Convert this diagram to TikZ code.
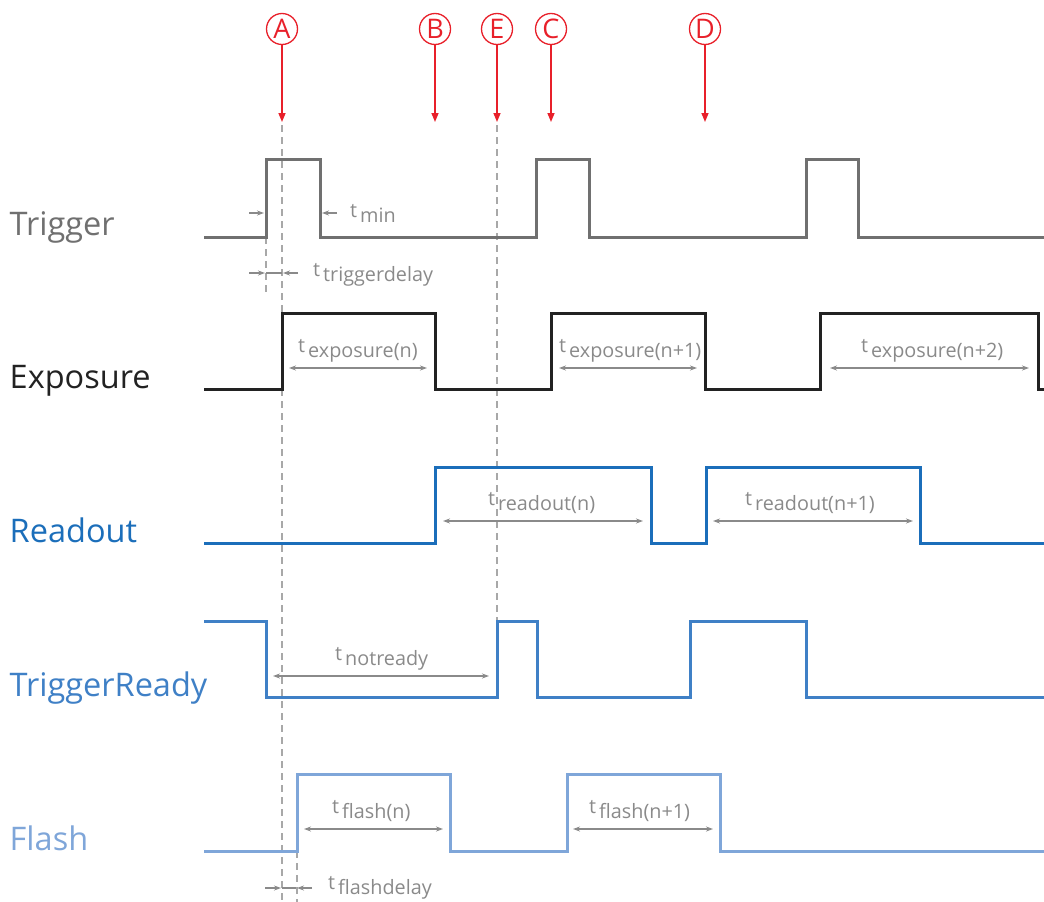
\documentclass[tikz,border=0pt]{standalone}
\usepackage{fontspec}
\setmainfont{Open Sans}
\usetikzlibrary{arrows.meta}

\definecolor{trigc}{HTML}{707070}
\definecolor{expc}{HTML}{222222}
\definecolor{readc}{HTML}{1B6EBA}
\definecolor{rdyc}{HTML}{3F80C6}
\definecolor{flashc}{HTML}{7FA6D9}
\definecolor{annc}{HTML}{8A8A8A}
\definecolor{guidec}{HTML}{A8A8A8}
\definecolor{markc}{HTML}{E8202A}

\tikzset{
  signal/.style={line width=3pt, line join=miter},
  signame/.style={anchor=base west, inner sep=0pt, font=\fontsize{32.5}{36}\selectfont},
  guide/.style={guidec, line width=1.2pt, dash pattern=on 7pt off 5pt},
  dimboth/.style={annc, line width=1.2pt, {Stealth[length=7pt,width=5pt]}-{Stealth[length=7pt,width=5pt]}},
  dimone/.style={annc, line width=1.2pt, -{Stealth[length=7pt,width=5pt]}},
  dimtick/.style={annc, line width=1.2pt},
  tlab/.style={anchor=base west, inner sep=0pt, text=annc, font=\fontsize{19.8}{22}\selectfont},
  marker/.style={circle, draw=markc, line width=1.3pt, minimum size=31pt, inner sep=0pt,
    text=markc, font=\fontsize{27}{29}\selectfont},
  markarrow/.style={markc, line width=1.5pt, -{Triangle[length=9pt,width=7pt]}},
}
% time label: "t" with a lowered name
\newcommand{\tsub}[1]{t\hspace{3pt}\raisebox{-5pt}{#1}}

\begin{document}
\begin{tikzpicture}[x=1pt, y=-1pt]
\useasboundingbox (0,0) rectangle (1044,902);

% ---- signal names
\node[signame, text=trigc]  (nTrig)  at (9.5,235) {Trigger};
\node[signame, text=expc]   (nExp)   at (9.5,388) {Exposure};
\node[signame, text=readc]  (nRead)  at (9.5,542) {Readout};
\node[signame, text=rdyc]   (nRdy)   at (9.5,696) {TriggerReady};
\node[signame, text=flashc] (nFlash) at (9.5,850) {Flash};

% ---- guide lines
\draw[guide] (282,125) -- (282,902);
\draw[guide] (497,125) -- (497,621);
\draw[guide] (266,237) -- (266,292);
\draw[guide] (297,851) -- (297,902);

% ---- event markers
\foreach \n/\x in {A/282, B/435, E/497, C/551, D/705}{
  \node[marker] (m\n) at (\x,29) {\n};
  \coordinate (tip\n) at (\x,122);
  \draw[markarrow] (m\n.south) -- (tip\n);
}

% ---- waveforms
\draw[signal, trigc] (204,237) -- (266,237) -- (266,159) -- (320,159) -- (320,237)
  -- (536,237) -- (536,159) -- (589,159) -- (589,237) -- (806,237) -- (806,159)
  -- (858,159) -- (858,237) -- (1044,237);
\draw[signal, expc] (204,389) -- (282,389) -- (282,313) -- (435,313) -- (435,389)
  -- (551,389) -- (551,313) -- (705,313) -- (705,389) -- (820,389) -- (820,313)
  -- (1038,313) -- (1038,389) -- (1044,389);
\draw[signal, readc] (204,543) -- (435,543) -- (435,467) -- (651,467) -- (651,543)
  -- (706,543) -- (706,467) -- (920,467) -- (920,543) -- (1044,543);
\draw[signal, rdyc] (204,621) -- (266,621) -- (266,697) -- (497,697) -- (497,621)
  -- (537,621) -- (537,697) -- (690,697) -- (690,621) -- (806,621) -- (806,697)
  -- (1044,697);
\draw[signal, flashc] (204,851) -- (297,851) -- (297,774) -- (450,774) -- (450,851)
  -- (567,851) -- (567,774) -- (720,774) -- (720,851) -- (1044,851);

% ---- t_min
\coordinate (mn1) at (249,213); \coordinate (mn2) at (264,213);
\coordinate (mn3) at (337,213); \coordinate (mn4) at (322,213);
\draw[dimone] (mn1) -- (mn2);
\draw[dimone] (mn3) -- (mn4);
\node[tlab] (lMin) at (350,217) {\tsub{min}};

% ---- t_triggerdelay
\coordinate (td1) at (249,273); \coordinate (td2) at (265,273);
\coordinate (td3) at (266,273); \coordinate (td4) at (282,273);
\coordinate (td5) at (298,273); \coordinate (td6) at (283,273);
\draw[dimone] (td1) -- (td2);
\draw[dimtick] (td3) -- (td4);
\draw[dimone] (td5) -- (td6);
\node[tlab] (lTd) at (313,276) {\tsub{triggerdelay}};

% ---- exposure times
\coordinate (e1a) at (289,368); \coordinate (e1b) at (427,368);
\draw[dimboth] (e1a) -- (e1b);
\node[tlab] (lE1) at (298,352) {\tsub{exposure(n)}};
\coordinate (e2a) at (559,368); \coordinate (e2b) at (697,368);
\draw[dimboth] (e2a) -- (e2b);
\node[tlab] (lE2) at (559,352) {\tsub{exposure(n+1)}};
\coordinate (e3a) at (830,368); \coordinate (e3b) at (1029,368);
\draw[dimboth] (e3a) -- (e3b);
\node[tlab] (lE3) at (861,352) {\tsub{exposure(n+2)}};

% ---- readout times
\coordinate (r1a) at (443,521); \coordinate (r1b) at (643,521);
\draw[dimboth] (r1a) -- (r1b);
\node[tlab] (lR1) at (488,505) {\tsub{readout(n)}};
\coordinate (r2a) at (713,521); \coordinate (r2b) at (913,521);
\draw[dimboth] (r2a) -- (r2b);
\node[tlab] (lR2) at (745,505) {\tsub{readout(n+1)}};

% ---- not ready time
\coordinate (nr1) at (273,676); \coordinate (nr2) at (489,676);
\draw[dimboth] (nr1) -- (nr2);
\node[tlab] (lNr) at (335,660) {\tsub{notready}};

% ---- flash times
\coordinate (f1a) at (304,829); \coordinate (f1b) at (443,829);
\draw[dimboth] (f1a) -- (f1b);
\node[tlab] (lF1) at (332,813) {\tsub{flash(n)}};
\coordinate (f2a) at (573,829); \coordinate (f2b) at (713,829);
\draw[dimboth] (f2a) -- (f2b);
\node[tlab] (lF2) at (589,813) {\tsub{flash(n+1)}};

% ---- t_flashdelay
\coordinate (fd1) at (265,888); \coordinate (fd2) at (281,888);
\coordinate (fd3) at (282,888); \coordinate (fd4) at (296,888);
\coordinate (fd5) at (312,888); \coordinate (fd6) at (297,888);
\draw[dimone] (fd1) -- (fd2);
\draw[dimtick] (fd3) -- (fd4);
\draw[dimone] (fd5) -- (fd6);
\node[tlab] (lFd) at (328,889) {\tsub{flashdelay}};
\end{tikzpicture}
\end{document}
